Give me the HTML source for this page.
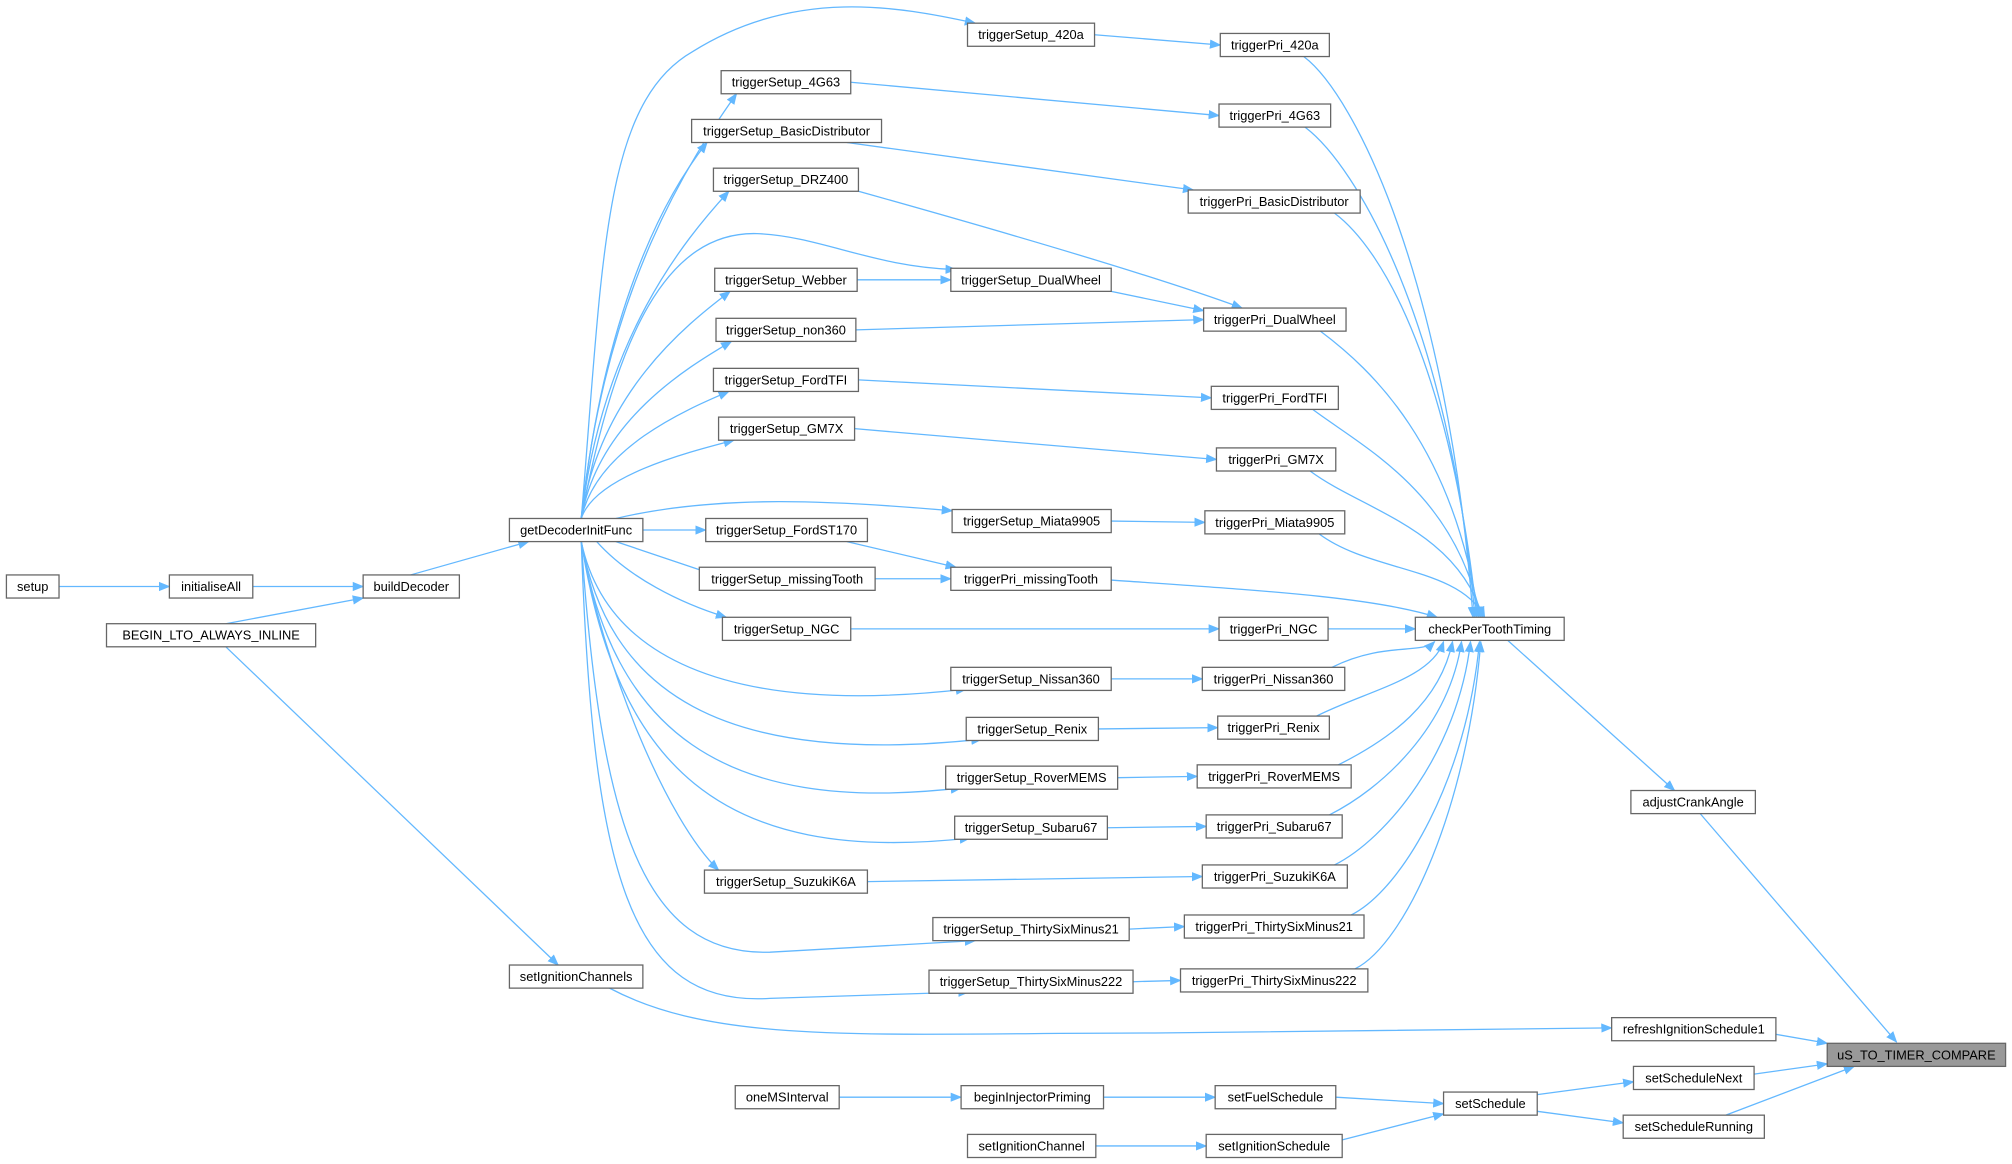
<!DOCTYPE html>
<html><head><meta charset="utf-8"><style>
html,body{margin:0;padding:0;background:#fff;}
svg{display:block;}
text{font-family:"Liberation Sans",Arial,sans-serif;font-size:10px;fill:#000;}
</style></head><body>
<svg id="g" width="2012" height="1164" viewBox="0 0 1568 907" xmlns="http://www.w3.org/2000/svg">
<defs><marker id="a" viewBox="0 0 10 10" refX="9" refY="5" markerWidth="9" markerHeight="9" markerUnits="userSpaceOnUse" orient="auto"><path d="M0,1 L10,5 L0,9 z" fill="#63b8ff"/></marker></defs>
<g id="e" fill="none" stroke="#63b8ff" stroke-width="1"></g>
<g id="n"></g>
</svg>
<script>
var N={
setup:[5,46,457],initialiseAll:[132,197,457],buildDecoder:[283,358,457],BEGIN_LTO_ALWAYS_INLINE:[83,246,495],
getDecoderInitFunc:[397,501,413],setIgnitionChannels:[397,501,761],
triggerSetup_420a:[754,853,27],triggerSetup_4G63:[562,663,64],triggerSetup_BasicDistributor:[539,687,102],
triggerSetup_DRZ400:[556,669,140],triggerSetup_DualWheel:[741,866,218],triggerSetup_Webber:[557,668,218],
triggerSetup_non360:[558,667,257],triggerSetup_FordTFI:[556,669,296],triggerSetup_GM7X:[560,666,334],
triggerSetup_Miata9905:[742,866,406],triggerSetup_FordST170:[550,676,413],triggerSetup_missingTooth:[545,682,451],
triggerPri_missingTooth:[741,866,451],triggerSetup_NGC:[563,663,490],triggerSetup_Nissan360:[741,866,529],
triggerSetup_Renix:[753,856,568],triggerSetup_RoverMEMS:[737,871,606],triggerSetup_Subaru67:[744,863,645],
triggerSetup_SuzukiK6A:[549,676,687],triggerSetup_ThirtySixMinus21:[727,880,724],triggerSetup_ThirtySixMinus222:[724,883,765],
triggerPri_420a:[951,1036,35],triggerPri_4G63:[950,1037,90],triggerPri_BasicDistributor:[926,1060,157],
triggerPri_DualWheel:[938,1049,249],triggerPri_FordTFI:[944,1043,310],triggerPri_GM7X:[948,1041,358],
triggerPri_Miata9905:[939,1048,407],triggerPri_NGC:[950,1035,490],triggerPri_Nissan360:[937,1048,529],
triggerPri_Renix:[949,1036,567],triggerPri_RoverMEMS:[933,1053,605],triggerPri_Subaru67:[940,1046,644],
triggerPri_SuzukiK6A:[937,1050,683],triggerPri_ThirtySixMinus21:[923,1063,722],triggerPri_ThirtySixMinus222:[920,1066,764],
checkPerToothTiming:[1103,1219,490],adjustCrankAngle:[1271,1368,625],refreshIgnitionSchedule1:[1256,1384,802],
uS_TO_TIMER_COMPARE:[1424,1563,822],setScheduleNext:[1273,1367,840],setScheduleRunning:[1265,1375,878],
setSchedule:[1125,1198,860],setFuelSchedule:[947,1041,855],setIgnitionSchedule:[940,1046,893],
beginInjectorPriming:[749,860,855],oneMSInterval:[573,654,855],setIgnitionChannel:[754,854,893]};
var H=9,E=[];
function L(a,b){var A=N[a],B=N[b];E.push("M"+A[1]+","+A[2]+" L"+B[0]+","+B[2]);}
function P(d){E.push(d);}
L("setup","initialiseAll");L("initialiseAll","buildDecoder");
P("M176,486 L283,466");P("M320,448 L412,422");
["triggerSetup_4G63","triggerSetup_BasicDistributor","triggerSetup_DRZ400","triggerSetup_Webber","triggerSetup_non360","triggerSetup_FordTFI","triggerSetup_GM7X"].forEach(function(k){
var B=N[k],tx=B[0]+12,ty=B[2]+H;var dy=404-ty;
P("M453,404 C"+(462+dy*0.03)+","+(404-dy*0.55)+" "+(tx-35)+","+(ty+dy*0.15)+" "+tx+","+ty);});
P("M453,404 C470,200 470,80 540,40 C620,-10 700,5 760,18");
P("M453,404 C480,260 520,180 590,182 C640,184 680,208 745,210");
P("M480,404 C560,385 650,390 742,398");
L("getDecoderInitFunc","triggerSetup_FordST170");
P("M480,422 L566,451");P("M465,422 C490,450 530,470 566,481");
["triggerSetup_Nissan360","triggerSetup_Renix","triggerSetup_RoverMEMS","triggerSetup_Subaru67"].forEach(function(k){
var B=N[k],tx=B[0]+12,ty=B[2]+H-1;var dy=ty-422;
P("M453,422 C"+(462+dy*0.08)+","+(422+dy*0.75)+" "+(560)+","+(ty+22)+" "+tx+","+ty);});
P("M453,422 C468,640 500,745 600,742 L760,733");
P("M453,422 C462,680 490,785 600,778 L755,773");
P("M453,422 C470,520 520,640 560,678");
L("triggerSetup_420a","triggerPri_420a");L("triggerSetup_4G63","triggerPri_4G63");
P("M660,111 L930,148");P("M669,149 C780,180 900,215 968,240");
P("M866,227 L938,242");L("triggerSetup_Webber","triggerSetup_DualWheel");L("triggerSetup_non360","triggerPri_DualWheel");
L("triggerSetup_FordTFI","triggerPri_FordTFI");L("triggerSetup_GM7X","triggerPri_GM7X");L("triggerSetup_Miata9905","triggerPri_Miata9905");
P("M660,422 L745,442");L("triggerSetup_missingTooth","triggerPri_missingTooth");L("triggerSetup_NGC","triggerPri_NGC");
L("triggerSetup_Nissan360","triggerPri_Nissan360");L("triggerSetup_Renix","triggerPri_Renix");L("triggerSetup_RoverMEMS","triggerPri_RoverMEMS");
L("triggerSetup_Subaru67","triggerPri_Subaru67");L("triggerSetup_SuzukiK6A","triggerPri_SuzukiK6A");
L("triggerSetup_ThirtySixMinus21","triggerPri_ThirtySixMinus21");L("triggerSetup_ThirtySixMinus222","triggerPri_ThirtySixMinus222");
["triggerPri_420a","triggerPri_4G63","triggerPri_BasicDistributor","triggerPri_DualWheel","triggerPri_FordTFI","triggerPri_GM7X","triggerPri_Miata9905"].forEach(function(k,i){
var B=N[k],sx=B[1]-20,sy=B[2]+H;var ex=1148+Math.min(i,6)*1.5;
P("M"+sx+","+sy+" C"+(sx+40)+","+(sy+30)+" "+(ex-20)+","+(sy+(480-sy)*0.4)+" "+ex+",481");});
P("M866,452 C980,460 1070,465 1120,481");
L("triggerPri_NGC","checkPerToothTiming");
["triggerPri_Nissan360","triggerPri_Renix","triggerPri_RoverMEMS","triggerPri_Subaru67","triggerPri_SuzukiK6A","triggerPri_ThirtySixMinus21","triggerPri_ThirtySixMinus222"].forEach(function(k,i){
var B=N[k],sx=B[1]-10,sy=B[2]-H;var ex=1118+Math.min(i*7,36);
P("M"+sx+","+sy+" C"+(sx+40)+","+(sy-20)+" "+(ex-10)+","+(sy-(sy-500)*0.5)+" "+ex+",500");});
P("M1175,499 L1305,616");P("M1325,634 L1478,812");
P("M1384,806 L1424,813");P("M1367,837 L1424,829");P("M1345,869 L1445,831");
P("M1198,853 L1273,843");P("M1198,866 L1265,875");
L("setFuelSchedule","setSchedule");P("M1043,889 L1125,868");
L("beginInjectorPriming","setFuelSchedule");L("oneMSInterval","beginInjectorPriming");L("setIgnitionChannel","setIgnitionSchedule");
P("M176,504 L435,752");P("M475,770 C560,815 680,805 900,805 L1256,801");
var s="";E.forEach(function(d){s+='<path d="'+d+'" marker-end="url(#a)"/>';});
document.getElementById("e").innerHTML=s;
var t="";for(var k in N){var B=N[k];var f=k=="uS_TO_TIMER_COMPARE"?"#999999":"#ffffff";
t+='<rect x="'+B[0]+'" y="'+(B[2]-H)+'" width="'+(B[1]-B[0])+'" height="'+(2*H)+'" fill="'+f+'" stroke="#666" stroke-width="1"/>';
t+='<text x="'+((B[0]+B[1])/2)+'" y="'+(B[2]+3.5)+'" text-anchor="middle">'+k+'</text>';}
document.getElementById("n").innerHTML=t;
</script>
</body></html>
